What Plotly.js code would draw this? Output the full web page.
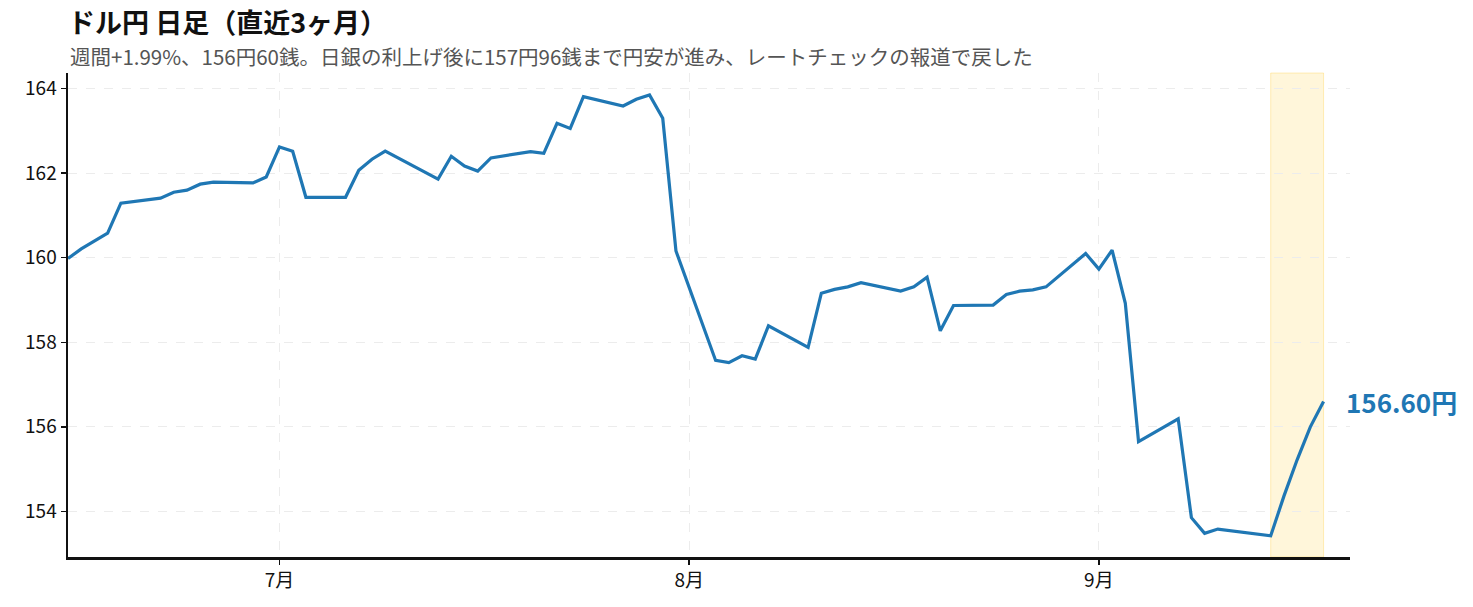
<!DOCTYPE html>
<html>
<head>
<meta charset="utf-8">
<script src="https://cdn.plot.ly/plotly-3.0.1.min.js"></script>
<style>
  html, body { margin: 0; padding: 0; background: #fff; }
  #graph { width: 1473px; height: 607px; }
</style>
</head>
<body>
<div id="graph"></div>
<script>
// ドル円 日足 終値（チャートから読み取り）
const dates = [
  "2026-06-15", "2026-06-16", "2026-06-18", "2026-06-19",
  "2026-06-22", "2026-06-23", "2026-06-24", "2026-06-25", "2026-06-26",
  "2026-06-29", "2026-06-30", "2026-07-01", "2026-07-02", "2026-07-03",
  "2026-07-06", "2026-07-07", "2026-07-08", "2026-07-09",
  "2026-07-13", "2026-07-14", "2026-07-15", "2026-07-16", "2026-07-17",
  "2026-07-20", "2026-07-21", "2026-07-22", "2026-07-23", "2026-07-24",
  "2026-07-27", "2026-07-28", "2026-07-29", "2026-07-30", "2026-07-31",
  "2026-08-03", "2026-08-04", "2026-08-05", "2026-08-06", "2026-08-07",
  "2026-08-10", "2026-08-11", "2026-08-12", "2026-08-13", "2026-08-14",
  "2026-08-17", "2026-08-18", "2026-08-19", "2026-08-20", "2026-08-21",
  "2026-08-24", "2026-08-25", "2026-08-26", "2026-08-27", "2026-08-28",
  "2026-08-31", "2026-09-01", "2026-09-02", "2026-09-03", "2026-09-04",
  "2026-09-07", "2026-09-08", "2026-09-09", "2026-09-10",
  "2026-09-14", "2026-09-15", "2026-09-16", "2026-09-17", "2026-09-18"
];
const closes = [
  159.98, 160.21, 160.58, 161.29,
  161.41, 161.55, 161.60, 161.74, 161.79,
  161.77, 161.91, 162.62, 162.52, 161.43,
  161.43, 162.07, 162.33, 162.52,
  161.86, 162.40, 162.17, 162.05, 162.36,
  162.51, 162.47, 163.18, 163.06, 163.81,
  163.59, 163.75, 163.85, 163.30, 160.16,
  157.57, 157.52, 157.68, 157.60, 158.39,
  157.88, 159.16, 159.25, 159.31, 159.41,
  159.21, 159.31, 159.54, 158.27, 158.87,
  158.88, 159.13, 159.21, 159.24, 159.31,
  160.10, 159.73, 160.18, 158.92, 155.65,
  156.19, 153.85, 153.48, 153.58,
  153.42, 154.36, 155.22, 156.00, 156.60
];

// 今週の範囲
const weekStart = "2026-09-14";
const weekEnd = "2026-09-18";

const monthTicks = ["2026-07-01", "2026-08-01", "2026-09-01"];
const monthLabels = ["7月", "8月", "9月"];

const titleText = "ドル円 日足（直近3ヶ月）";
const subText = "週間+1.99%、156円60銭。日銀の利上げ後に157円96銭まで円安が進み、レートチェックの報道で戻した";

const FONT = "Noto Sans CJK JP, Noto Sans, sans-serif";
const BLUE = "#1f77b4";

const last = closes.length - 1;

const trace = {
  x: dates,
  y: closes,
  type: "scatter",
  mode: "lines",
  line: { color: BLUE, width: 3.2 },
  hoverinfo: "x+y",
  showlegend: false
};

const layout = {
  width: 1473,
  height: 607,
  margin: { l: 68, r: 123, t: 73, b: 50 },
  paper_bgcolor: "#fff",
  plot_bgcolor: "#fff",
  font: { family: FONT, size: 19, color: "#111" },
  title: {
    text: "<b>" + titleText + "</b>",
    font: { family: FONT, size: 27, color: "#111" },
    xref: "paper", x: 0, xanchor: "left",
    yref: "container", y: 1 - 24 / 607, yanchor: "middle"
  },
  xaxis: {
    type: "date",
    range: ["2026-06-15", "2026-09-20"],
    tickvals: monthTicks,
    ticktext: monthLabels,
    ticks: "outside", ticklen: 5, tickwidth: 1.5, tickcolor: "#111",
    showline: true, linecolor: "#111", linewidth: 2.5,
    showgrid: true, gridcolor: "#ececec", griddash: "dash", gridwidth: 1,
    zeroline: false,
    tickfont: { family: FONT, size: 19, color: "#111" }
  },
  yaxis: {
    range: [152.92, 164.37],
    tickvals: [154, 156, 158, 160, 162, 164],
    ticks: "outside", ticklen: 5, tickwidth: 1.5, tickcolor: "#111",
    showline: true, linecolor: "#111", linewidth: 2.5,
    showgrid: true, gridcolor: "#ececec", griddash: "dash", gridwidth: 1,
    zeroline: false,
    tickfont: { family: FONT, size: 19, color: "#111" }
  },
  shapes: [{
    type: "rect",
    xref: "x", yref: "paper",
    x0: weekStart, x1: weekEnd, y0: 0, y1: 1,
    fillcolor: "rgba(255, 193, 7, 0.15)",
    line: { color: "rgba(255, 193, 7, 0.25)", width: 1 },
    layer: "below"
  }],
  annotations: [
    {
      text: subText,
      xref: "paper", x: 0, xanchor: "left",
      yref: "paper", y: (557 - 56) / 484, yanchor: "middle",
      showarrow: false,
      font: { family: FONT, size: 20.5, color: "#555" }
    },
    {
      text: "<b>" + closes[last].toFixed(2) + "円</b>",
      x: dates[last], y: closes[last],
      xanchor: "left", yanchor: "middle", xshift: 20,
      showarrow: false,
      font: { family: FONT, size: 26, color: BLUE }
    }
  ]
};

Plotly.newPlot("graph", [trace], layout, { displayModeBar: false, staticPlot: true });
</script>
</body>
</html>
